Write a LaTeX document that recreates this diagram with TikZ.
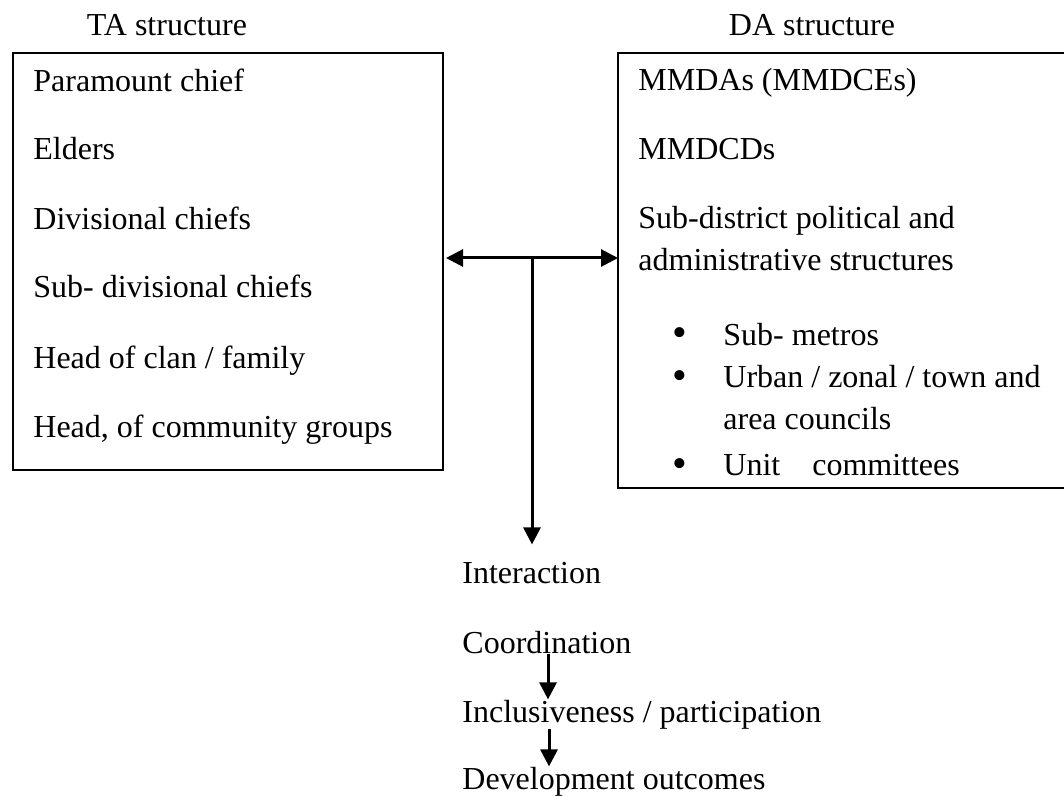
\documentclass[tikz,border=0pt]{standalone}
\usepackage{fontspec}
\setmainfont{Liberation Serif}
\usetikzlibrary{arrows.meta,positioning,calc}

\begin{document}
\begin{tikzpicture}[
    x=0.5pt, y=-0.5pt,
    box/.style={draw, line width=0.8pt, inner sep=0, outer sep=0, anchor=north west},
    item/.style={anchor=base west, inner sep=0, font=\fontsize{16pt}{19pt}\selectfont},
    title/.style={anchor=base, inner sep=0, font=\fontsize{16pt}{19pt}\selectfont},
    dot/.style={anchor=base, inner sep=0, font=\fontsize{21pt}{21pt}\selectfont},
    arr/.style={line width=1.5pt, -{Triangle[length=8.5pt, width=8.5pt]}}
]
    \useasboundingbox (0,0) rectangle (1064,796);

    % the two structures
    \node[box, minimum width=215pt, minimum height=208.5pt] (ta) at (13,53) {};
    \node[box, minimum width=228pt, minimum height=217.5pt] (da) at (618,53) {};
    \node[title] (tatitle) at (167,36) {TA structure};
    \node[title] (datitle) at (812,36) {DA structure};

    \node[item] (ta1) at (33,92)  {Paramount chief};
    \node[item] (ta2) at (33,160) {Elders};
    \node[item] (ta3) at (33,230) {Divisional chiefs};
    \node[item] (ta4) at (33,298) {Sub- divisional chiefs};
    \node[item] (ta5) at (33,368) {Head of clan / family};
    \node[item] (ta6) at (33,437) {Head, of community groups};

    \node[item] (da1) at (638,91)  {MMDAs (MMDCEs)};
    \node[item] (da2) at (638,160) {MMDCDs};
    \node[item] (da3) at (638,229) {Sub-district political and};
    \node[item] (da3b) at (638,271) {administrative structures};
    \foreach \y/\txt in {345/{Sub- metros}, 387/{Urban / zonal / town and}, 475/{Unit\quad committees}} {
        \node[dot] at (680,\y+2) {\textbullet};
        \node[item] at (723,\y) {\txt};
    }
    \node[item] (da5b) at (723,429) {area councils};

    % outcomes
    \node[item] (inter) at (462,583) {Interaction};
    \node[item] (coord) at (462,653) {Coordination};
    \node[item] (incl)  at (462,722) {Inclusiveness / participation};
    \node[item] (devel) at (462,789) {Development outcomes};

    \coordinate (mid) at (532,258);
    \draw[arr, {Triangle[length=8.5pt, width=8.5pt]}-{Triangle[length=8.5pt, width=8.5pt]}, shorten <=1.5pt]
        (ta.east |- mid) -- (da.west |- mid);
    \draw[arr, shorten >=8.5pt] (mid) -- (mid |- inter.north);
    \draw[arr] ([xshift=43pt]coord.south west) -- ([xshift=43pt]incl.north west);
    \draw[arr] ([xshift=43.5pt]incl.south west) -- ([xshift=43.5pt]devel.north west);
\end{tikzpicture}
\end{document}
